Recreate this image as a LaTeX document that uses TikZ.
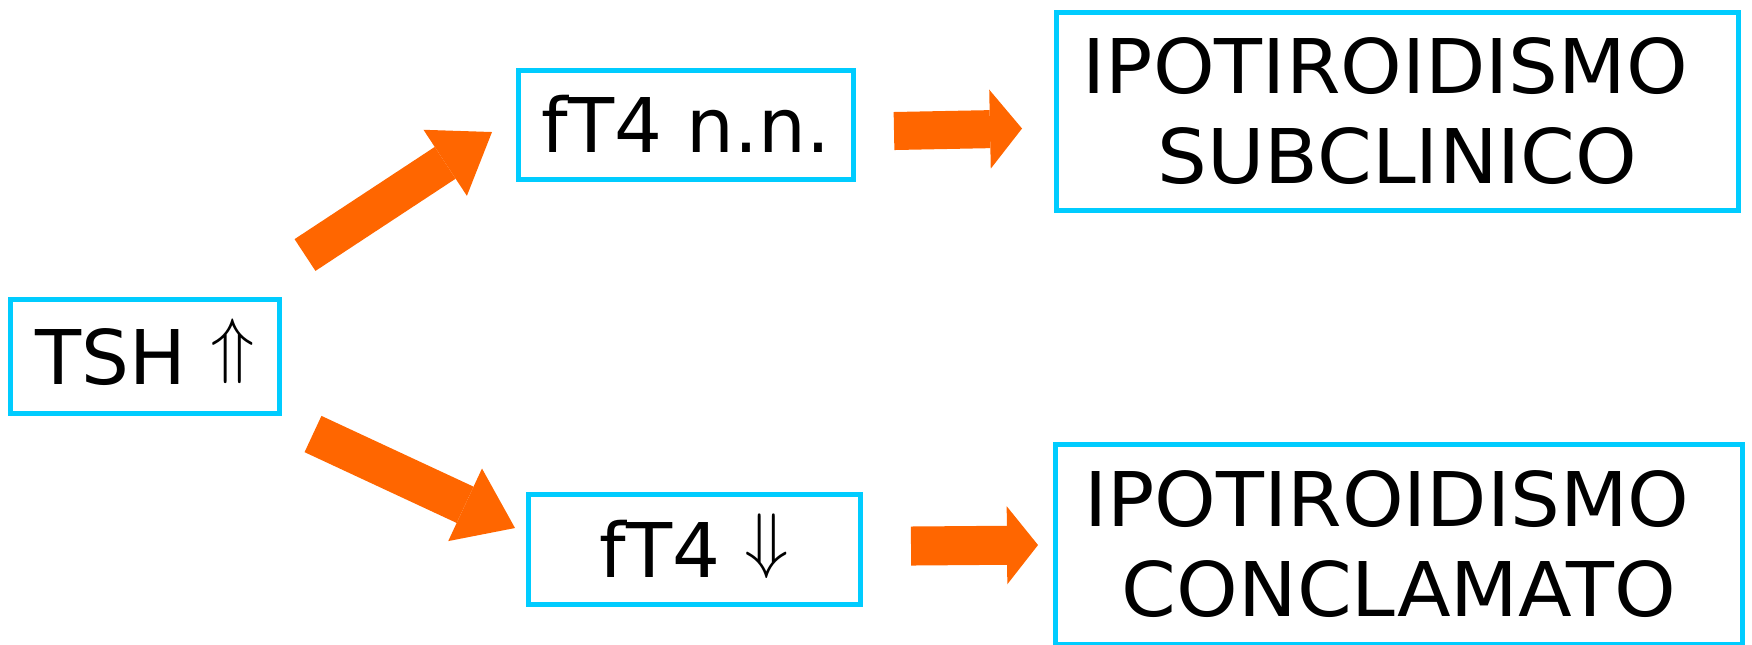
\documentclass[tikz,border=0pt]{standalone}
\usepackage{graphicx}
\usepackage{fontspec}
\setmainfont{DejaVu Sans}
\usetikzlibrary{arrows.meta}
\definecolor{boxcyan}{RGB}{0,204,255}
\definecolor{arrorange}{RGB}{255,102,0}
\newcommand{\myup}{\raisebox{0.19em}{$\Uparrow$}}
\newcommand{\mydown}{\raisebox{0.17em}{$\Downarrow$}}
\newcommand{\wideline}[1]{\scalebox{1.04}[1]{#1}}
\begin{document}
\begin{tikzpicture}[x=0.01cm,y=-0.01cm,
  box/.style={draw=boxcyan, line width=0.05cm, inner sep=0pt,
    font=\fontsize{21.45pt}{25.6pt}\selectfont, align=center},
  onebox/.style={box, text height=0.55cm, text depth=0pt},
  bigarrow/.style={draw=arrorange, line width=#1},
]
\useasboundingbox (0,0) rectangle (1752,644);
% boxes
\node[onebox, minimum width=2.69cm, minimum height=1.14cm] (tsh) at (145,356.5) {TSH \myup};
\node[onebox, minimum width=3.35cm, minimum height=1.09cm] (nn) at (686,125) {fT4 n.n.};
\node[onebox, minimum width=3.32cm, minimum height=1.10cm] (down) at (694.5,549.5) {fT4 \mydown};
\node[box, minimum width=6.82cm, minimum height=1.98cm] (sub) at (1397.5,111.5) {\wideline{IPOTIROIDISMO}\hspace*{0.32em}\\\wideline{SUBCLINICO}};
\node[box, minimum width=6.86cm, minimum height=2.00cm] (concl) at (1399,544.5) {\wideline{IPOTIROIDISMO}\hspace*{0.32em}\\\wideline{CONCLAMATO}};
% arrow ends
\coordinate (a1s) at (305,255);
\coordinate (a1e) at (492,132);
\coordinate (a2s) at (313,434);
\coordinate (a2e) at (515,528);
\coordinate (a3s) at (894,131);
\coordinate (a3e) at (1022,128.5);
\coordinate (a4s) at (911,546);
\coordinate (a4e) at (1038,545);
% arrows
\draw[bigarrow=0.38cm, -{Triangle[length=0.56cm, width=0.79cm, line width=0pt]}] (a1s) -- (a1e);
\draw[bigarrow=0.40cm, -{Triangle[length=0.55cm, width=0.80cm, line width=0pt]}] (a2s) -- (a2e);
\draw[bigarrow=0.38cm, -{Triangle[length=0.32cm, width=0.79cm, line width=0pt]}] (a3s) -- (a3e);
\draw[bigarrow=0.39cm, -{Triangle[length=0.31cm, width=0.78cm, line width=0pt]}] (a4s) -- (a4e);
\end{tikzpicture}
\end{document}
